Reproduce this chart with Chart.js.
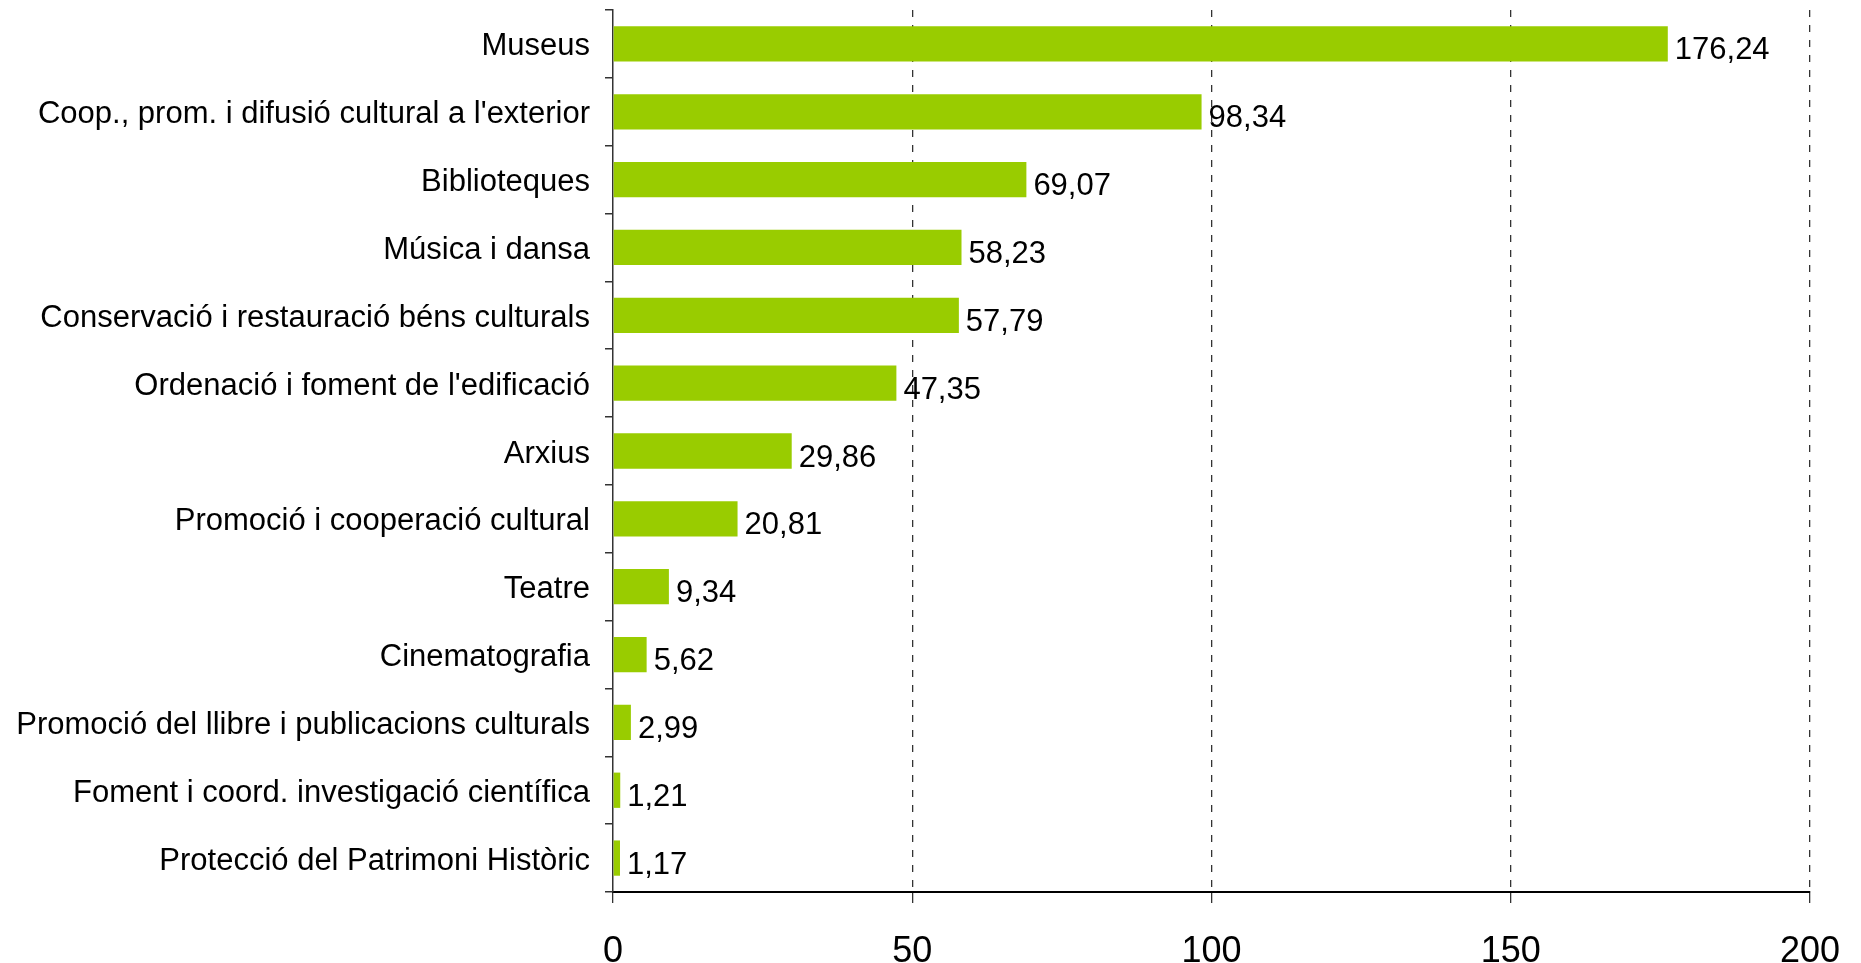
<!DOCTYPE html>
<html>
<head>
<meta charset="utf-8">
<script src="https://cdn.jsdelivr.net/npm/chart.js@4"></script>
<style>
    body { margin: 0; background: #fff; }
    #wrap { width: 1861px; height: 963px; position: relative; }
</style>
</head>
<body>
<div id="wrap"><canvas id="budgetChart"></canvas></div>
<script>

const categories = [
    "Museus",
    "Coop., prom. i difusió cultural a l'exterior",
    "Biblioteques",
    "Música i dansa",
    "Conservació i restauració béns culturals",
    "Ordenació i foment de l'edificació",
    "Arxius",
    "Promoció i cooperació cultural",
    "Teatre",
    "Cinematografia",
    "Promoció del llibre i publicacions culturals",
    "Foment i coord. investigació científica",
    "Protecció del Patrimoni Històric"
];

const amounts = [176.24, 98.34, 69.07, 58.23, 57.79, 47.35, 29.86, 20.81, 9.34, 5.62, 2.99, 1.21, 1.17];

const xTicks = [0, 50, 100, 150, 200];

const fontFamily = "'Liberation Sans', Arial, Helvetica, sans-serif";

// value labels at the end of each bar, with decimal comma
const valueLabels = {
    id: 'valueLabels',
    afterDatasetsDraw(chart) {
        const ctx = chart.ctx;
        const meta = chart.getDatasetMeta(0);
        ctx.save();
        ctx.font = "31px " + fontFamily;
        ctx.fillStyle = '#000';
        ctx.textAlign = 'left';
        ctx.textBaseline = 'middle';
        meta.data.forEach((bar, i) => {
            const txt = amounts[i].toFixed(2).replace('.', ',');
            ctx.fillText(txt, bar.x + 7, bar.y + 7);
        });
        ctx.restore();
    }
};

new Chart(document.getElementById('budgetChart').getContext('2d'), {
    type: 'bar',
    data: {
        labels: categories,
        datasets: [{
            data: amounts,
            backgroundColor: '#99cc00',
            borderWidth: 0,
            barPercentage: 0.52,
            categoryPercentage: 1
        }]
    },
    options: {
        indexAxis: 'y',
        responsive: true,
        maintainAspectRatio: false,
        animation: false,
        layout: { padding: { top: 10, right: 51, left: 0, bottom: 0 } },
        plugins: {
            legend: { display: false },
            tooltip: { enabled: false }
        },
        scales: {
            x: {
                min: 0,
                max: 200,
                afterBuildTicks: scale => { scale.ticks = xTicks.map(v => ({ value: v })); },
                afterFit: scale => { scale.height = 71; scale.paddingLeft = 0; scale.paddingRight = 0; },
                border: { display: true, color: '#000', width: 2, dash: [7, 8] },
                grid: {
                    color: ctx => ctx.tick && ctx.tick.value === 0 ? 'rgba(0,0,0,0)' : '#333',
                    tickColor: '#333',
                    lineWidth: 1.3,
                    tickBorderDash: [],
                    tickLength: 11,
                    drawTicks: true
                },
                ticks: {
                    color: '#000',
                    padding: 27,
                    font: { family: fontFamily, size: 36 }
                }
            },
            y: {
                offset: true,
                afterFit: scale => { scale.width = 613; scale.paddingTop = 0; scale.paddingBottom = 0; },
                border: { display: true, color: '#333', width: 1.5 },
                grid: {
                    offset: true,
                    drawOnChartArea: false,
                    tickLength: 8,
                    tickColor: '#333',
                    lineWidth: 1.5
                },
                ticks: {
                    color: '#000',
                    padding: 15,
                    labelOffset: 3,
                    autoSkip: false,
                    font: { family: fontFamily, size: 31 }
                }
            }
        }
    },
    plugins: [valueLabels]
});
</script>
</body>
</html>
